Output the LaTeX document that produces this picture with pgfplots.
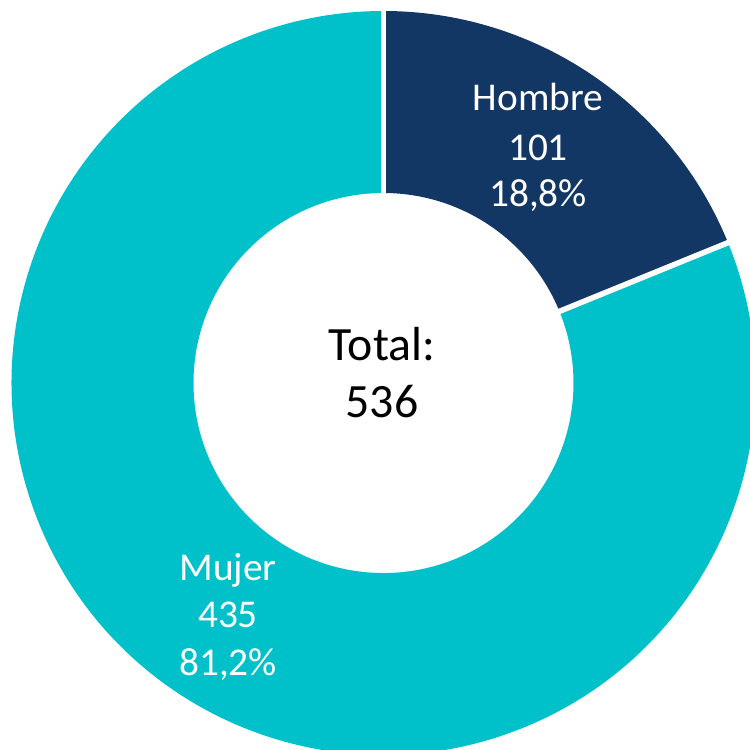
\documentclass[border=0pt]{standalone}
\usepackage{fontspec}
\setmainfont{Carlito}
\usepackage{pgfplots}
\pgfplotsset{compat=1.18}
\definecolor{navy}{HTML}{133765}
\definecolor{teal2}{HTML}{00C1CA}
\begin{document}
\begin{tikzpicture}
% data
\def\vH{101}
\def\vM{435}
\pgfmathsetmacro\tot{\vH+\vM}
\pgfmathsetmacro\aH{\vH/\tot*360}
\pgfmathsetmacro\eH{90-\aH}
\def\cx{383.5}
\def\cy{383}
\def\R{372}
\def\r{190}
\begin{axis}[
  scale only axis, width=7.5cm, height=7.5cm,
  xmin=0, xmax=750, ymin=0, ymax=750, y dir=reverse,
  hide axis, clip=true,
]
\path (rel axis cs:0,0) rectangle (rel axis cs:1,1);
% Hombre
\fill[navy] (axis cs:{\cx+\R*cos(90)},{\cy-\R*sin(90)})
  arc[start angle=90, end angle=\eH, radius=3.72cm]
  -- (axis cs:{\cx+\r*cos(\eH)},{\cy-\r*sin(\eH)})
  arc[start angle=\eH, end angle=90, radius=1.90cm] -- cycle;
% Mujer
\fill[teal2] (axis cs:{\cx+\R*cos(\eH)},{\cy-\R*sin(\eH)})
  arc[start angle=\eH, end angle=-270, radius=3.72cm]
  -- (axis cs:{\cx+\r*cos(90)},{\cy-\r*sin(90)})
  arc[start angle=-270, end angle=\eH, radius=1.90cm] -- cycle;
% separators
\draw[white, line width=0.055cm] (axis cs:{\cx+180*cos(90)},{\cy-180*sin(90)}) -- (axis cs:{\cx+390*cos(90)},{\cy-390*sin(90)});
\draw[white, line width=0.055cm] (axis cs:{\cx+180*cos(\eH)},{\cy-180*sin(\eH)}) -- (axis cs:{\cx+400*cos(\eH)},{\cy-400*sin(\eH)});
% labels
\begin{scope}[every node/.style={text=white, anchor=base, inner sep=0pt, font=\fontsize{11.2}{13}\selectfont}]
\node at (axis cs:538,110) {Hombre};
\node at (axis cs:538,160) {101};
\node at (axis cs:538,206) {18,8\%};
\node at (axis cs:228,580) {Mujer};
\node at (axis cs:228,627) {435};
\node at (axis cs:228,675) {81,2\%};
\end{scope}
\node[anchor=base, inner sep=0pt, font=\fontsize{13.6}{16}\selectfont] at (axis cs:382,360) {Total:};
\node[anchor=base, inner sep=0pt, font=\fontsize{13.6}{16}\selectfont] at (axis cs:382,417) {536};
\end{axis}
\end{tikzpicture}
\end{document}
